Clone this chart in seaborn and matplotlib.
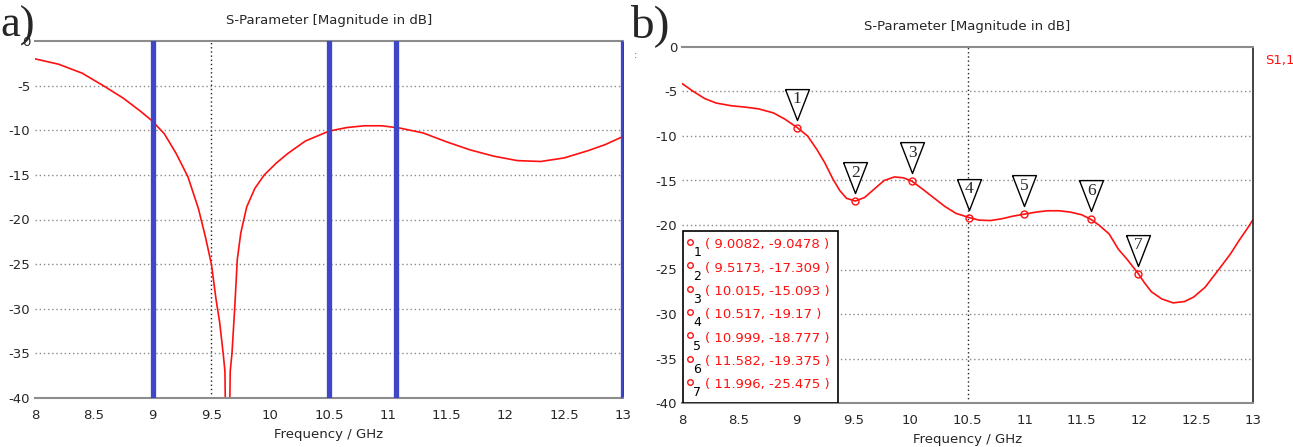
import numpy as np
import pandas as pd
import matplotlib
matplotlib.use("Agg")
import matplotlib.pyplot as plt
from matplotlib.patches import Rectangle
import seaborn as sns

# panel a) S11 curve (read off the picture)
freq_a = [8.0, 8.2, 8.4, 8.58, 8.75, 8.9, 9.0, 9.1, 9.2, 9.3, 9.39, 9.45, 9.5, 9.54,
          9.57, 9.6, 9.615, 9.62, 9.655, 9.66, 9.675, 9.7, 9.72, 9.75, 9.8, 9.87,
          9.95, 10.05, 10.15, 10.3, 10.5, 10.65, 10.8, 10.95, 11.1, 11.3, 11.5,
          11.7, 11.9, 12.1, 12.3, 12.5, 12.7, 12.85, 13.0]
s11_a = [-2.0, -2.6, -3.6, -5.0, -6.4, -7.9, -9.0, -10.4, -12.6, -15.2, -18.8, -22.0,
         -25.0, -29.0, -31.5, -35.0, -37.0, -42.0, -42.0, -37.0, -35.0, -29.5, -24.5,
         -21.5, -18.6, -16.5, -15.0, -13.7, -12.6, -11.2, -10.1, -9.7, -9.5, -9.5,
         -9.75, -10.3, -11.3, -12.2, -12.9, -13.4, -13.5, -13.1, -12.3, -11.6, -10.7]
band_edges = [9.0, 10.5, 11.07, 13.0]

# panel b) S11 curve
freq_b = [8.0, 8.1, 8.2, 8.3, 8.43, 8.55, 8.67, 8.8, 8.9, 9.0082, 9.1, 9.18, 9.25,
          9.32, 9.38, 9.44, 9.5173, 9.6, 9.68, 9.77, 9.86, 9.94, 10.015, 10.1, 10.2,
          10.3, 10.4, 10.517, 10.6, 10.7, 10.8, 10.9, 10.999, 11.1, 11.2, 11.3, 11.4,
          11.5, 11.582, 11.65, 11.74, 11.82, 11.9, 11.996, 12.05, 12.11, 12.2, 12.3,
          12.4, 12.48, 12.58, 12.7, 12.8, 12.88, 12.95, 13.0]
s11_b = [-4.1, -5.0, -5.8, -6.3, -6.6, -6.75, -6.95, -7.4, -8.1, -9.0478, -10.0, -11.5,
         -13.0, -14.8, -16.1, -17.0, -17.309, -16.9, -16.0, -15.0, -14.6, -14.7,
         -15.093, -15.9, -16.9, -17.9, -18.7, -19.17, -19.45, -19.5, -19.3, -19.0,
         -18.777, -18.55, -18.4, -18.4, -18.55, -18.85, -19.375, -20.0, -21.0, -22.7,
         -23.9, -25.475, -26.5, -27.5, -28.3, -28.75, -28.6, -28.1, -27.0, -25.0,
         -23.3, -21.7, -20.4, -19.4]

marker_freq = [9.0082, 9.5173, 10.015, 10.517, 10.999, 11.582, 11.996]
marker_s11 = [-9.0478, -17.309, -15.093, -19.17, -18.777, -19.375, -25.475]

x_ticks = np.arange(8, 13.01, 0.5)
y_ticks = np.arange(-40, 1, 5)

sns.set_style("white")
plt.rcParams['font.family'] = ['DejaVu Sans']

W, H = 1293, 447
fig = plt.figure(figsize=(W / 100, H / 100), dpi=100)
ax1 = fig.add_axes([35 / W, 1 - 398 / H, 588 / W, 357 / H])
ax2 = fig.add_axes([682 / W, 1 - 403 / H, 571 / W, 356 / H])

red = '#ff1010'
dot = (0, (1, 2))


def style(ax, vline):
    ax.set_xlim(8, 13)
    ax.set_ylim(-40, 0)
    ax.set_xticks(x_ticks)
    ax.set_xticklabels([f'{t:g}' for t in x_ticks])
    ax.set_yticks(y_ticks)
    ax.set_yticklabels([f'{t:g}' for t in y_ticks])
    ax.tick_params(axis='x', length=0, labelsize=9.5, pad=8)
    ax.tick_params(axis='y', length=0, labelsize=9.5, pad=3.5)
    for y in y_ticks[1:-1]:
        ax.axhline(y, color='#8a8a8a', lw=1, ls=dot, zorder=0)
    ax.axvline(vline, color='#222222', lw=1, ls=dot, zorder=0)
    for s in ['top', 'bottom']:
        ax.spines[s].set_color('#8c8c8c')
        ax.spines[s].set_linewidth(1.5)
    ax.spines['left'].set_visible(False)
    ax.spines['right'].set_color('#222222')
    ax.spines['right'].set_linewidth(1.2)
    ax.set_title('S-Parameter [Magnitude in dB]', fontsize=9.5, pad=12)
    ax.set_xlabel('Frequency / GHz', fontsize=9.5, labelpad=4)
    ax.set_ylabel('')


# ---- panel a
df_a = pd.DataFrame({'f': freq_a, 's': s11_a})
sns.lineplot(data=df_a, x='f', y='s', ax=ax1, color=red, lw=1.2, sort=False)
for f in band_edges:
    ax1.axvline(f, color='#4046c8', lw=3.8, zorder=4)
style(ax1, 9.5)
ax1.text(1.019, 0.961, ':', transform=ax1.transAxes, color=red, fontsize=7,
         ha='left', va='center')

# ---- panel b
df_b = pd.DataFrame({'f': freq_b, 's': s11_b})
sns.lineplot(data=df_b, x='f', y='s', ax=ax2, color=red, lw=1.2, sort=False)
style(ax2, 10.5)

# marker flags: inverted triangle above each point
tri = [(-12, 39), (12, 39), (0, 8), (-12, 39)]
ax2.plot(marker_freq, marker_s11, ls='none', marker=tri, ms=56, mfc='white',
         mec='black', mew=1, zorder=6, clip_on=False)
ax2.plot(marker_freq, marker_s11, ls='none', marker='o', ms=5, mfc='none',
         mec=red, mew=1, zorder=7)
for i, (f, s) in enumerate(zip(marker_freq, marker_s11), 1):
    ax2.annotate(str(i), (f, s), xytext=(0, 20.5), textcoords='offset points',
                 ha='center', va='center', fontsize=12.5,
                 family=['Liberation Serif'], zorder=8)

# marker table box
ax2.add_patch(Rectangle((0.002, 0.0), 0.271, 0.483, transform=ax2.transAxes,
                        fc='white', ec='black', lw=1.2, zorder=9))
for i, (f, s) in enumerate(zip(marker_freq, marker_s11)):
    yp = 245 + 23.3 * i
    yf = (403 - yp) / 356
    ax2.plot([0.014], [yf + 3 / 356], transform=ax2.transAxes, marker='o', ms=4,
             mfc='none', mec=red, mew=1, zorder=10, clip_on=False)
    ax2.text(0.020, yf - 8 / 356, str(i + 1), transform=ax2.transAxes,
             fontsize=9, color='black', ha='left', va='center', zorder=10)
    ax2.text(0.0403, yf, f'( {f:.5g}, {s:.5g} )', transform=ax2.transAxes,
             fontsize=9.5, color=red, ha='left', va='center', zorder=10)

ax2.text(1.022, 0.963, 'S1,1', transform=ax2.transAxes, color=red, fontsize=9.5,
         ha='left', va='center')

# panel letters
fig.text(0, 1 - 37 / H, 'a)', fontsize=32, family=['Liberation Serif'],
         ha='left', va='baseline')
fig.text(630 / W, 1 - 37 / H, 'b)', fontsize=34, family=['Liberation Serif'],
         ha='left', va='baseline')

fig.savefig('out.png', dpi=100)
